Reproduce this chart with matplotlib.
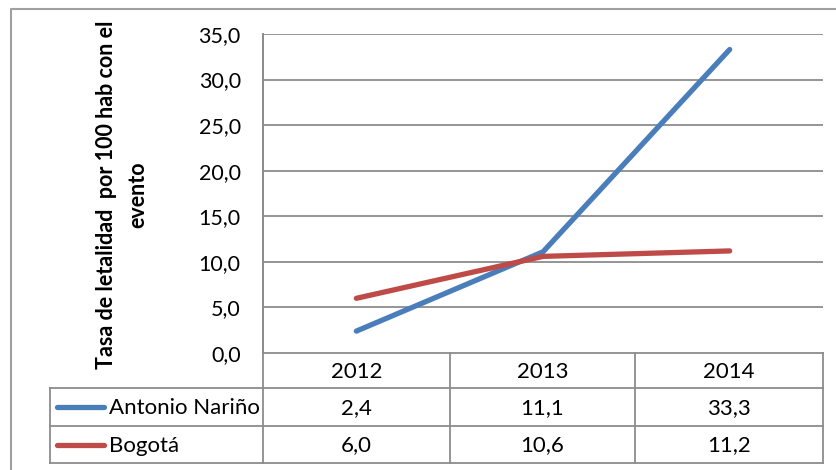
import numpy as np
import matplotlib
matplotlib.use("Agg")
import matplotlib.pyplot as plt

plt.rcParams['font.family'] = ['Lato', 'DejaVu Sans']

years = ["2012", "2013", "2014"]
series_names = ["Antonio Nariño", "Bogotá"]
antonio = [2.4, 11.1, 33.3]
bogota = [6.0, 10.6, 11.2]
colors = ["#4A7EBB", "#BE4B48"]
yticks = [0, 5, 10, 15, 20, 25, 30, 35]

W, H = 837, 470
fig = plt.figure(figsize=(W / 100, H / 100), dpi=100)

# pixel helpers
def fx(px):
    return px / W

def fy(py):
    return 1 - py / H

# overlay in pixel coords for frame + data table
ov = fig.add_axes([0, 0, 1, 1], zorder=0)
ov.set_xlim(0, W)
ov.set_ylim(H, 0)
ov.axis('off')

grid_c = "#8C8C8C"
# outer chart frame (cut by image edge)
ov.plot([11, 11, W + 5], [H + 5, 9, 9], color="#A0A0A0", lw=1.5)

# plot area
left, right, top, bottom = 263, 823, 34, 353
ax = fig.add_axes([fx(left), fy(bottom), fx(right - left), (bottom - top) / H], zorder=1)
ax.patch.set_alpha(0)
xs = np.arange(len(years)) + 0.5
ax.plot(xs, antonio, color=colors[0], lw=3.8, solid_capstyle='round', zorder=3)
ax.plot(xs, bogota, color=colors[1], lw=3.8, solid_capstyle='round', zorder=3)
ax.set_xlim(0, 3)
ax.set_ylim(0, 35)
ax.set_yticks(yticks)
ax.set_yticklabels([f"{v:.1f}".replace(".", ",") for v in yticks], fontsize=15.5)
ax.set_xticks([])
ax.tick_params(axis='y', length=0, pad=16)
for y in yticks[1:]:
    ax.axhline(y, color=grid_c, lw=1.3, zorder=1)
for s in ['top', 'right', 'bottom']:
    ax.spines[s].set_visible(False)
ax.spines['left'].set_color(grid_c)
ax.spines['left'].set_linewidth(1.3)

# y label (two lines, bold)
fig.text(fx(107), fy(195), "Tasa de letalidad  por 100 hab con el", rotation=90,
         ha='center', va='center', fontsize=15.5, fontweight='bold')
fig.text(fx(138), fy(195), "evento", rotation=90,
         ha='center', va='center', fontsize=15.5, fontweight='bold')

# data table
tleft = 50
rows_y = [353, 388, 426, 463]
cols_x = [left, 450, 635, right]
ov.plot([left, left], [top, rows_y[-1]], color=grid_c, lw=1.3)
ov.plot([left, right], [rows_y[0], rows_y[0]], color=grid_c, lw=1.3)
for y in rows_y[1:]:
    ov.plot([tleft, right], [y, y], color=grid_c, lw=1.3)
ov.plot([tleft, tleft], [rows_y[1], rows_y[-1]], color=grid_c, lw=1.3)
for x in cols_x[1:]:
    ov.plot([x, x], [rows_y[0], rows_y[-1]], color=grid_c, lw=1.3)

for i, yr in enumerate(years):
    cx = (cols_x[i] + cols_x[i + 1]) / 2
    ov.text(cx, (rows_y[0] + rows_y[1]) / 2 + 1, yr, ha='center', va='center', fontsize=16)

for r, (name, vals, c) in enumerate(zip(series_names, [antonio, bogota], colors)):
    cy = (rows_y[r + 1] + rows_y[r + 2]) / 2
    ov.plot([57, 104], [cy, cy], color=c, lw=3.8, solid_capstyle='round')
    ov.text(109, cy + 1, name, ha='left', va='center', fontsize=16)
    for i, v in enumerate(vals):
        cx = (cols_x[i] + cols_x[i + 1]) / 2
        ov.text(cx, cy + 1, f"{v:.1f}".replace(".", ","), ha='center', va='center', fontsize=16)

fig.savefig("out.png", dpi=100)
